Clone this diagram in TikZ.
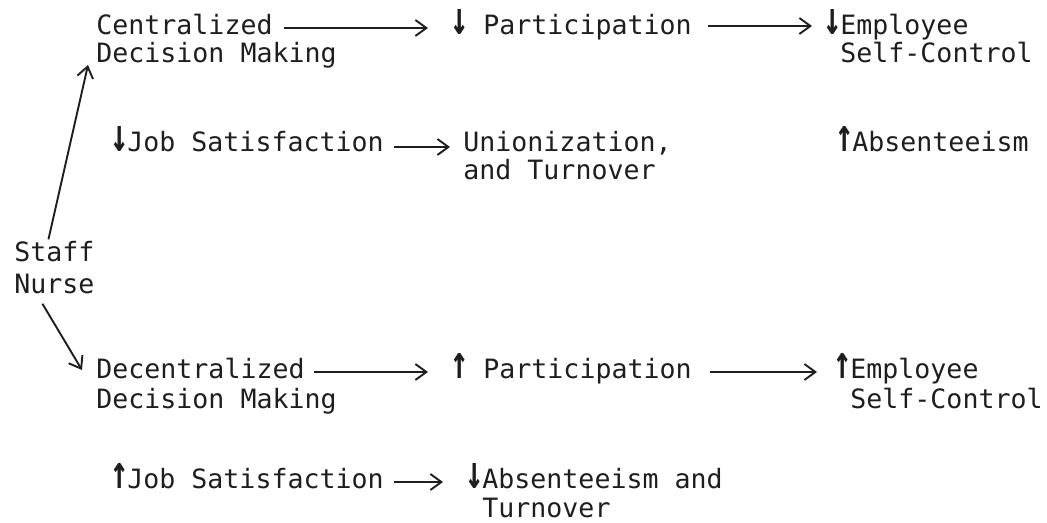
\documentclass[tikz,border=0pt]{standalone}
\usepackage{fontspec}
\usepackage{graphicx}
\newfontfamily\tw{DejaVu Sans Mono}
\usetikzlibrary{arrows.meta,calc}
\definecolor{ink}{HTML}{1E1E1E}
\newcommand{\dnarr}{\makebox[8pt]{\scalebox{1.15}[1.75]{\bfseries ↓}}}
\newcommand{\uparr}{\makebox[8pt]{\scalebox{1.15}[1.75]{\bfseries ↑}}}
\tikzset{
  txt/.style={inner sep=0pt,anchor=base west,text=ink,font=\tw\fontsize{13.3}{14.5}\selectfont},
  conn/.style={draw=ink,line width=0.95pt,-{Straight Barb[length=5.5pt,width=8pt,line width=0.95pt]}}
}
\begin{document}
\begin{tikzpicture}[x=0.5pt,y=-0.5pt]
\useasboundingbox (0,0) rectangle (1047,523);
% row 1
\node[txt] (cenA) at (96,35) {Centralized};
\node[txt] (cenB) at (96,63) {Decision Making};
\node[txt] (parA) at (451,35) {\dnarr{} Participation};
\node[txt] (empA) at (824,35) {\dnarr{}Employee};
\node[txt] (empAb) at (840,63) {Self-Control};
% row 2
\node[txt] (jsA) at (111,152) {\dnarr{}Job Satisfaction};
\node[txt] (unA) at (463,152) {Unionization,};
\node[txt] (unB) at (463,180) {and Turnover};
\node[txt] (absA) at (836,152) {\uparr{}Absenteeism};
% staff nurse
\node[txt] (staffA) at (14,262) {Staff};
\node[txt] (staffB) at (14,293) {Nurse};
% row 3
\node[txt] (decA) at (96,378) {Decentralized};
\node[txt] (decB) at (96,408) {Decision Making};
\node[txt] (parB) at (451,378) {\uparr{} Participation};
\node[txt] (empB) at (834,378) {\uparr{}Employee};
\node[txt] (empBb) at (850,408) {Self-Control};
% row 4
\node[txt] (jsB) at (111,488) {\uparr{}Job Satisfaction};
\node[txt] (absB) at (466,488) {\dnarr{}Absenteeism and};
\node[txt] (absBb) at (482,517) {Turnover};
% connectors
\draw[conn] ($(cenA.base east)+(11,-7)$) -- ($(parA.base west)+(-23,-7)$);
\draw[conn] ($(parA.base east)+(16,-9)$) -- ($(empA.base west)+(-12,-9)$);
\draw[conn] ($(jsA.base east)+(10,-5)$) -- ($(unA.base west)+(-13,-5)$);
\draw[conn] ($(decA.base east)+(9,-6)$) -- ($(parB.base west)+(-23,-6)$);
\draw[conn] ($(parB.base east)+(18,-6)$) -- ($(empB.base west)+(-17,-6)$);
\draw[conn] ($(jsB.base east)+(10,-6)$) -- ($(absB.base west)+(-23,-6)$);
\draw[conn] ($(staffA.north)+(-6,-2)$) -- ($(cenB.base west)+(-8,2)$);
\draw[conn] ($(staffB.south)+(-12,10)$) -- ($(decA.base west)+(-14,-8)$);
\end{tikzpicture}
\end{document}
